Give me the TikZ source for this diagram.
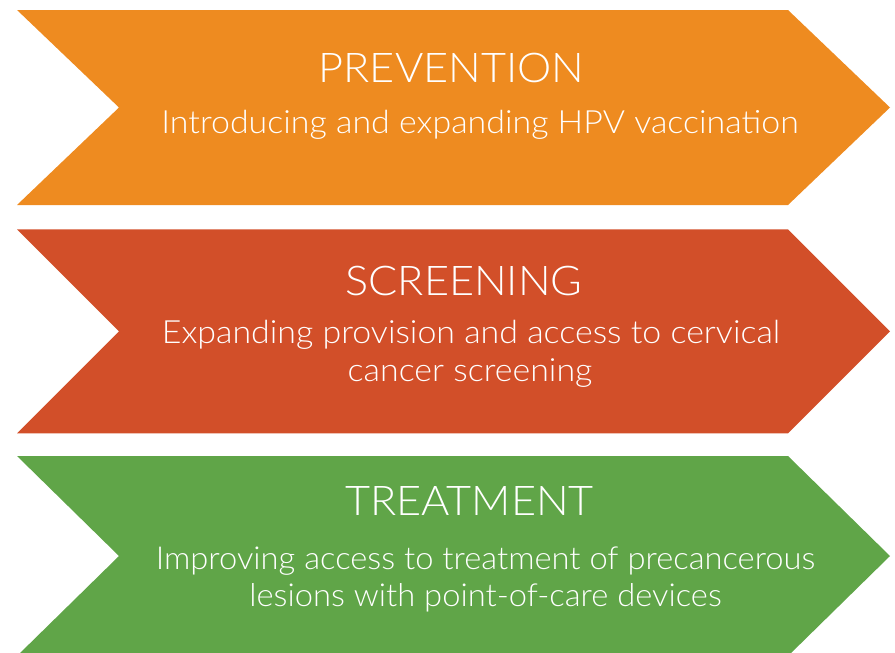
\documentclass[tikz,border=0pt]{standalone}
\usepackage{fontspec}
\setmainfont{Lato Light}
\newfontfamily\ttlfont{Lato Light}[FakeStretch=1.055]
\newfontfamily\subfont{Lato Light}[FakeStretch=1.06]
\newfontfamily\subfontb{Lato Light}[FakeStretch=1.035]
\begin{document}
\begin{tikzpicture}[x=1pt,y=-1pt,
  ttl/.style={text=white,inner sep=0pt,anchor=base,font=\ttlfont\fontsize{41}{48}\selectfont},
  sub/.style={text=white,inner sep=0pt,anchor=base,font=\subfont\fontsize{32}{38}\selectfont},
  subb/.style={text=white,inner sep=0pt,anchor=base,font=\subfontb\fontsize{31.6}{38}\selectfont}]
\definecolor{corange}{HTML}{EE8B20}
\definecolor{cred}{HTML}{D24F29}
\definecolor{cgreen}{HTML}{60A548}
\useasboundingbox (0,0) rectangle (895,653);
\clip (0,0) rectangle (895,653);
\fill[corange] (17,10) -- (788,10) -- (890,107.5) -- (788,205) -- (17,205) -- (119,107.5) -- cycle;
\fill[cred] (17,229.3) -- (788,229.3) -- (890,331.3) -- (788,433.3) -- (17,433.3) -- (119,331.3) -- cycle;
\fill[cgreen] (17,456) -- (788,456) -- (890,556) -- (788,656) -- (17,656) -- (119,556) -- cycle;
\node[ttl] (t1) at (451.5,82.7) {PREVENTION};
\node[sub] (s1) at (480,133.3) {Introducing and expanding HPV vaccination};
\node[ttl] (t2) at (464,295) {SCREENING};
\node[sub] (s2a) at (471,343.3) {Expanding provision and access to cervical};
\node[sub] (s2b) at (470,381.7) {cancer screening};
\node[ttl] (t3) at (469.5,515) {TREATMENT};
\node[subb] (s3a) at (485.5,569) {Improving access to treatment of precancerous};
\node[subb] (s3b) at (485.5,606.7) {lesions with point-of-care devices};
\end{tikzpicture}
\end{document}
